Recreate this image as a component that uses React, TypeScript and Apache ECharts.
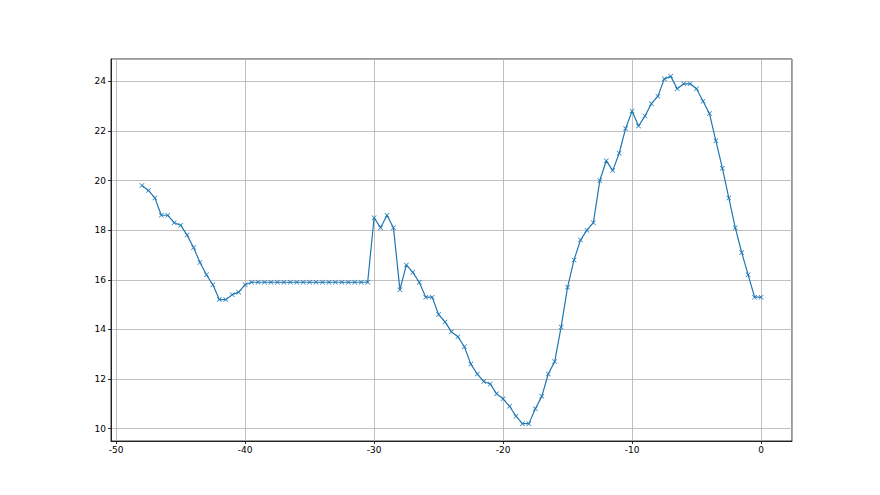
import React, { useEffect, useRef } from "react";
import * as echarts from "echarts";

const xs: number[] = [
  -48, -47.5, -47, -46.5, -46, -45.5, -45, -44.5, -44, -43.5, -43, -42.5, -42, -41.5, -41, -40.5, -40,
  -39.5, -39, -38.5, -38, -37.5, -37, -36.5, -36, -35.5, -35, -34.5, -34, -33.5, -33, -32.5, -32, -31.5, -31, -30.5,
  -30, -29.5, -29, -28.5, -28, -27.5, -27, -26.5, -26, -25.5, -25, -24.5, -24, -23.5, -23, -22.5, -22, -21.5, -21, -20.5,
  -20, -19.5, -19, -18.5, -18, -17.5, -17, -16.5, -16, -15.5, -15, -14.5, -14, -13.5, -13, -12.5, -12, -11.5, -11, -10.5,
  -10, -9.5, -9, -8.5, -8, -7.5, -7, -6.5, -6, -5.5, -5, -4.5, -4, -3.5, -3, -2.5, -2, -1.5, -1, -0.5, 0,
];

const ys: number[] = [
  19.8, 19.6, 19.3, 18.6, 18.6, 18.3, 18.2, 17.8, 17.3, 16.7, 16.2, 15.8, 15.2, 15.2, 15.4, 15.5, 15.8,
  15.9, 15.9, 15.9, 15.9, 15.9, 15.9, 15.9, 15.9, 15.9, 15.9, 15.9, 15.9, 15.9, 15.9, 15.9, 15.9, 15.9, 15.9, 15.9,
  18.5, 18.1, 18.6, 18.1, 15.6, 16.6, 16.3, 15.9, 15.3, 15.3, 14.6, 14.3, 13.9, 13.7, 13.3, 12.6, 12.2, 11.9, 11.8, 11.4,
  11.2, 10.9, 10.5, 10.2, 10.2, 10.8, 11.3, 12.2, 12.7, 14.1, 15.7, 16.8, 17.6, 18.0, 18.3, 20.0, 20.8, 20.4, 21.1, 22.1,
  22.8, 22.2, 22.6, 23.1, 23.4, 24.1, 24.2, 23.7, 23.9, 23.9, 23.7, 23.2, 22.7, 21.6, 20.5, 19.3, 18.1, 17.1, 16.2, 15.3, 15.3,
];

const xTicks = { min: -50.4, max: 2.4, step: 10 };
const yTicks = { min: 9.5, max: 24.9, step: 2 };

const BLUE = "#1f77b4";
const XMARK = "path://M0,1L1,0L5,4L9,0L10,1L6,5L10,9L9,10L5,6L1,10L0,9L4,5Z";

export default function App() {
  const ref = useRef<HTMLDivElement>(null);
  useEffect(() => {
    if (!ref.current) return;
    const chart = echarts.init(ref.current, undefined, { renderer: "svg" });
    const labelStyle = { color: "#000", fontSize: 9, fontFamily: "DejaVu Sans" };
    chart.setOption({
      animation: false,
      backgroundColor: "#fff",
      grid: {
        left: 111,
        top: 59,
        width: 681,
        height: 382,
        show: true,
        borderColor: "#000",
        borderWidth: 0.8,
        containLabel: false,
      },
      xAxis: {
        type: "value",
        min: xTicks.min,
        max: xTicks.max,
        minInterval: xTicks.step,
        maxInterval: xTicks.step,
        axisLine: { show: true, onZero: false, lineStyle: { color: "#000", width: 0.8 } },
        axisTick: { show: true, length: 3, lineStyle: { color: "#000", width: 0.8 } },
        axisLabel: { ...labelStyle, margin: 4, showMinLabel: false, showMaxLabel: false },
        splitLine: { show: true, lineStyle: { color: "#b0b0b0", width: 0.8 } },
      },
      yAxis: {
        type: "value",
        min: yTicks.min,
        max: yTicks.max,
        minInterval: yTicks.step,
        maxInterval: yTicks.step,
        axisLine: { show: true, onZero: false, lineStyle: { color: "#000", width: 0.8 } },
        axisTick: { show: true, length: 3, lineStyle: { color: "#000", width: 0.8 } },
        axisLabel: { ...labelStyle, margin: 5, showMinLabel: false, showMaxLabel: false },
        splitLine: { show: true, lineStyle: { color: "#b0b0b0", width: 0.8 } },
      },
      series: [
        {
          type: "line",
          data: xs.map((x, i) => [x, ys[i]]),
          symbol: XMARK,
          symbolSize: 5,
          showAllSymbol: true,
          lineStyle: { color: BLUE, width: 1.2 },
          itemStyle: { color: BLUE },
        },
      ],
    });
    return () => chart.dispose();
  }, []);
  return (
    <div
      ref={ref}
      style={{ position: "fixed", left: 0, top: 0, width: 880, height: 495 }}
    />
  );
}
